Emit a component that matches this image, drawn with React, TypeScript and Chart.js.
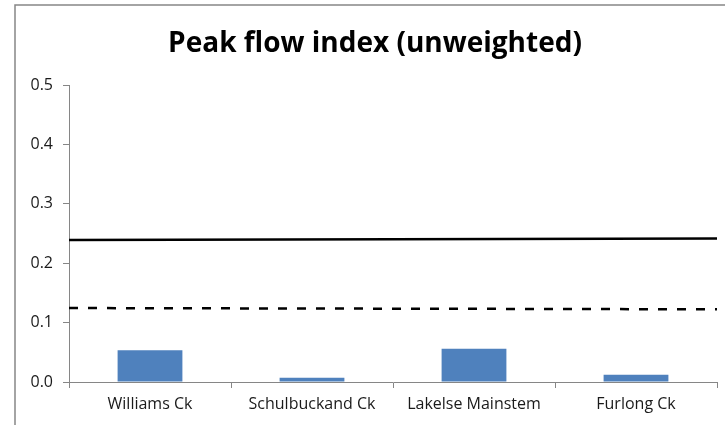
import React, { useEffect, useRef } from "react";
import { Chart, registerables } from "chart.js";

Chart.register(...registerables);

const categories = ["Williams Ck", "Schulbuckand Ck", "Lakelse Mainstem", "Furlong Ck"];
const indexValues = [0.0535, 0.0072, 0.056, 0.0123];
const lineX = [0, 1];
const solidLineY = [0.239, 0.2415];
const dashedLineY = [0.1245, 0.1224];
const yMin = 0;
const yMax = 0.5;
const yStep = 0.1;
const titleText = "Peak flow index (unweighted)";

const FONT = "'Open Sans', 'Noto Sans', sans-serif";
const AXIS_GRAY = "#868686";

const framePlugin = {
  id: "frameAndTitle",
  beforeDraw(chart: any) {
    const ctx = chart.ctx;
    ctx.save();
    ctx.fillStyle = "#ffffff";
    ctx.fillRect(0, 0, chart.width, chart.height);
    ctx.strokeStyle = AXIS_GRAY;
    ctx.lineWidth = 1.5;
    ctx.beginPath();
    ctx.moveTo(15, chart.height);
    ctx.lineTo(15, 5);
    ctx.lineTo(chart.width, 5);
    ctx.stroke();
    ctx.restore();
  },
  afterDraw(chart: any) {
    const ctx = chart.ctx;
    ctx.save();
    ctx.fillStyle = "#000000";
    ctx.font = `bold 28px ${FONT}`;
    ctx.textAlign = "center";
    ctx.textBaseline = "alphabetic";
    ctx.fillText(titleText, 375, 52);
    ctx.restore();
  },
};

export default function App() {
  const ref = useRef<HTMLCanvasElement | null>(null);

  useEffect(() => {
    if (!ref.current) return;
    const chart = new Chart(ref.current, {
      type: "bar",
      data: {
        labels: categories,
        datasets: [
          {
            type: "bar",
            data: indexValues,
            backgroundColor: "#4F81BD",
            borderWidth: 0,
            barPercentage: 0.4,
            categoryPercentage: 1,
            grouped: false,
            xAxisID: "x",
            yAxisID: "y",
            order: 2,
          } as any,
          {
            type: "line",
            data: lineX.map((x, i) => ({ x, y: solidLineY[i] })),
            borderColor: "#000000",
            borderWidth: 2.5,
            pointRadius: 0,
            tension: 0,
            xAxisID: "x2",
            yAxisID: "y",
            order: 1,
          } as any,
          {
            type: "line",
            data: lineX.map((x, i) => ({ x, y: dashedLineY[i] })),
            borderColor: "#000000",
            borderWidth: 2.5,
            borderDash: [9, 10],
            pointRadius: 0,
            tension: 0,
            xAxisID: "x2",
            yAxisID: "y",
            order: 1,
          } as any,
        ],
      },
      options: {
        responsive: false,
        animation: false,
        devicePixelRatio: 1,
        layout: { padding: { left: 0, right: 8, top: 85, bottom: 0 } },
        plugins: {
          legend: { display: false },
          tooltip: { enabled: false },
          title: { display: false },
        },
        scales: {
          x: {
            type: "category",
            offset: true,
            grid: {
              offset: true,
              drawOnChartArea: false,
              drawTicks: true,
              tickLength: 6,
              color: AXIS_GRAY,
            },
            border: { color: AXIS_GRAY, width: 1 },
            ticks: {
              color: "#1a1a1a",
              font: { family: FONT, size: 16 },
              padding: 7,
              maxRotation: 0,
            },
            afterFit(scale: any) {
              scale.height = 43;
            },
          },
          x2: {
            type: "linear",
            display: false,
            offset: false,
            min: 0,
            max: 1,
          },
          y: {
            min: yMin,
            max: yMax,
            ticks: {
              stepSize: yStep,
              color: "#1a1a1a",
              font: { family: FONT, size: 16 },
              padding: 10,
              callback: (v: any) => Number(v).toFixed(1),
            },
            grid: {
              drawOnChartArea: false,
              drawTicks: true,
              tickLength: 6,
              color: AXIS_GRAY,
            },
            border: { color: AXIS_GRAY, width: 1 },
            afterFit(scale: any) {
              scale.width = 69;
            },
          },
        },
      },
      plugins: [framePlugin],
    } as any);
    return () => chart.destroy();
  }, []);

  return (
    <div style={{ position: "absolute", left: 0, top: 0, width: 725, height: 425, background: "#fff" }}>
      <canvas ref={ref} width={725} height={425} style={{ width: 725, height: 425, display: "block" }} />
    </div>
  );
}
